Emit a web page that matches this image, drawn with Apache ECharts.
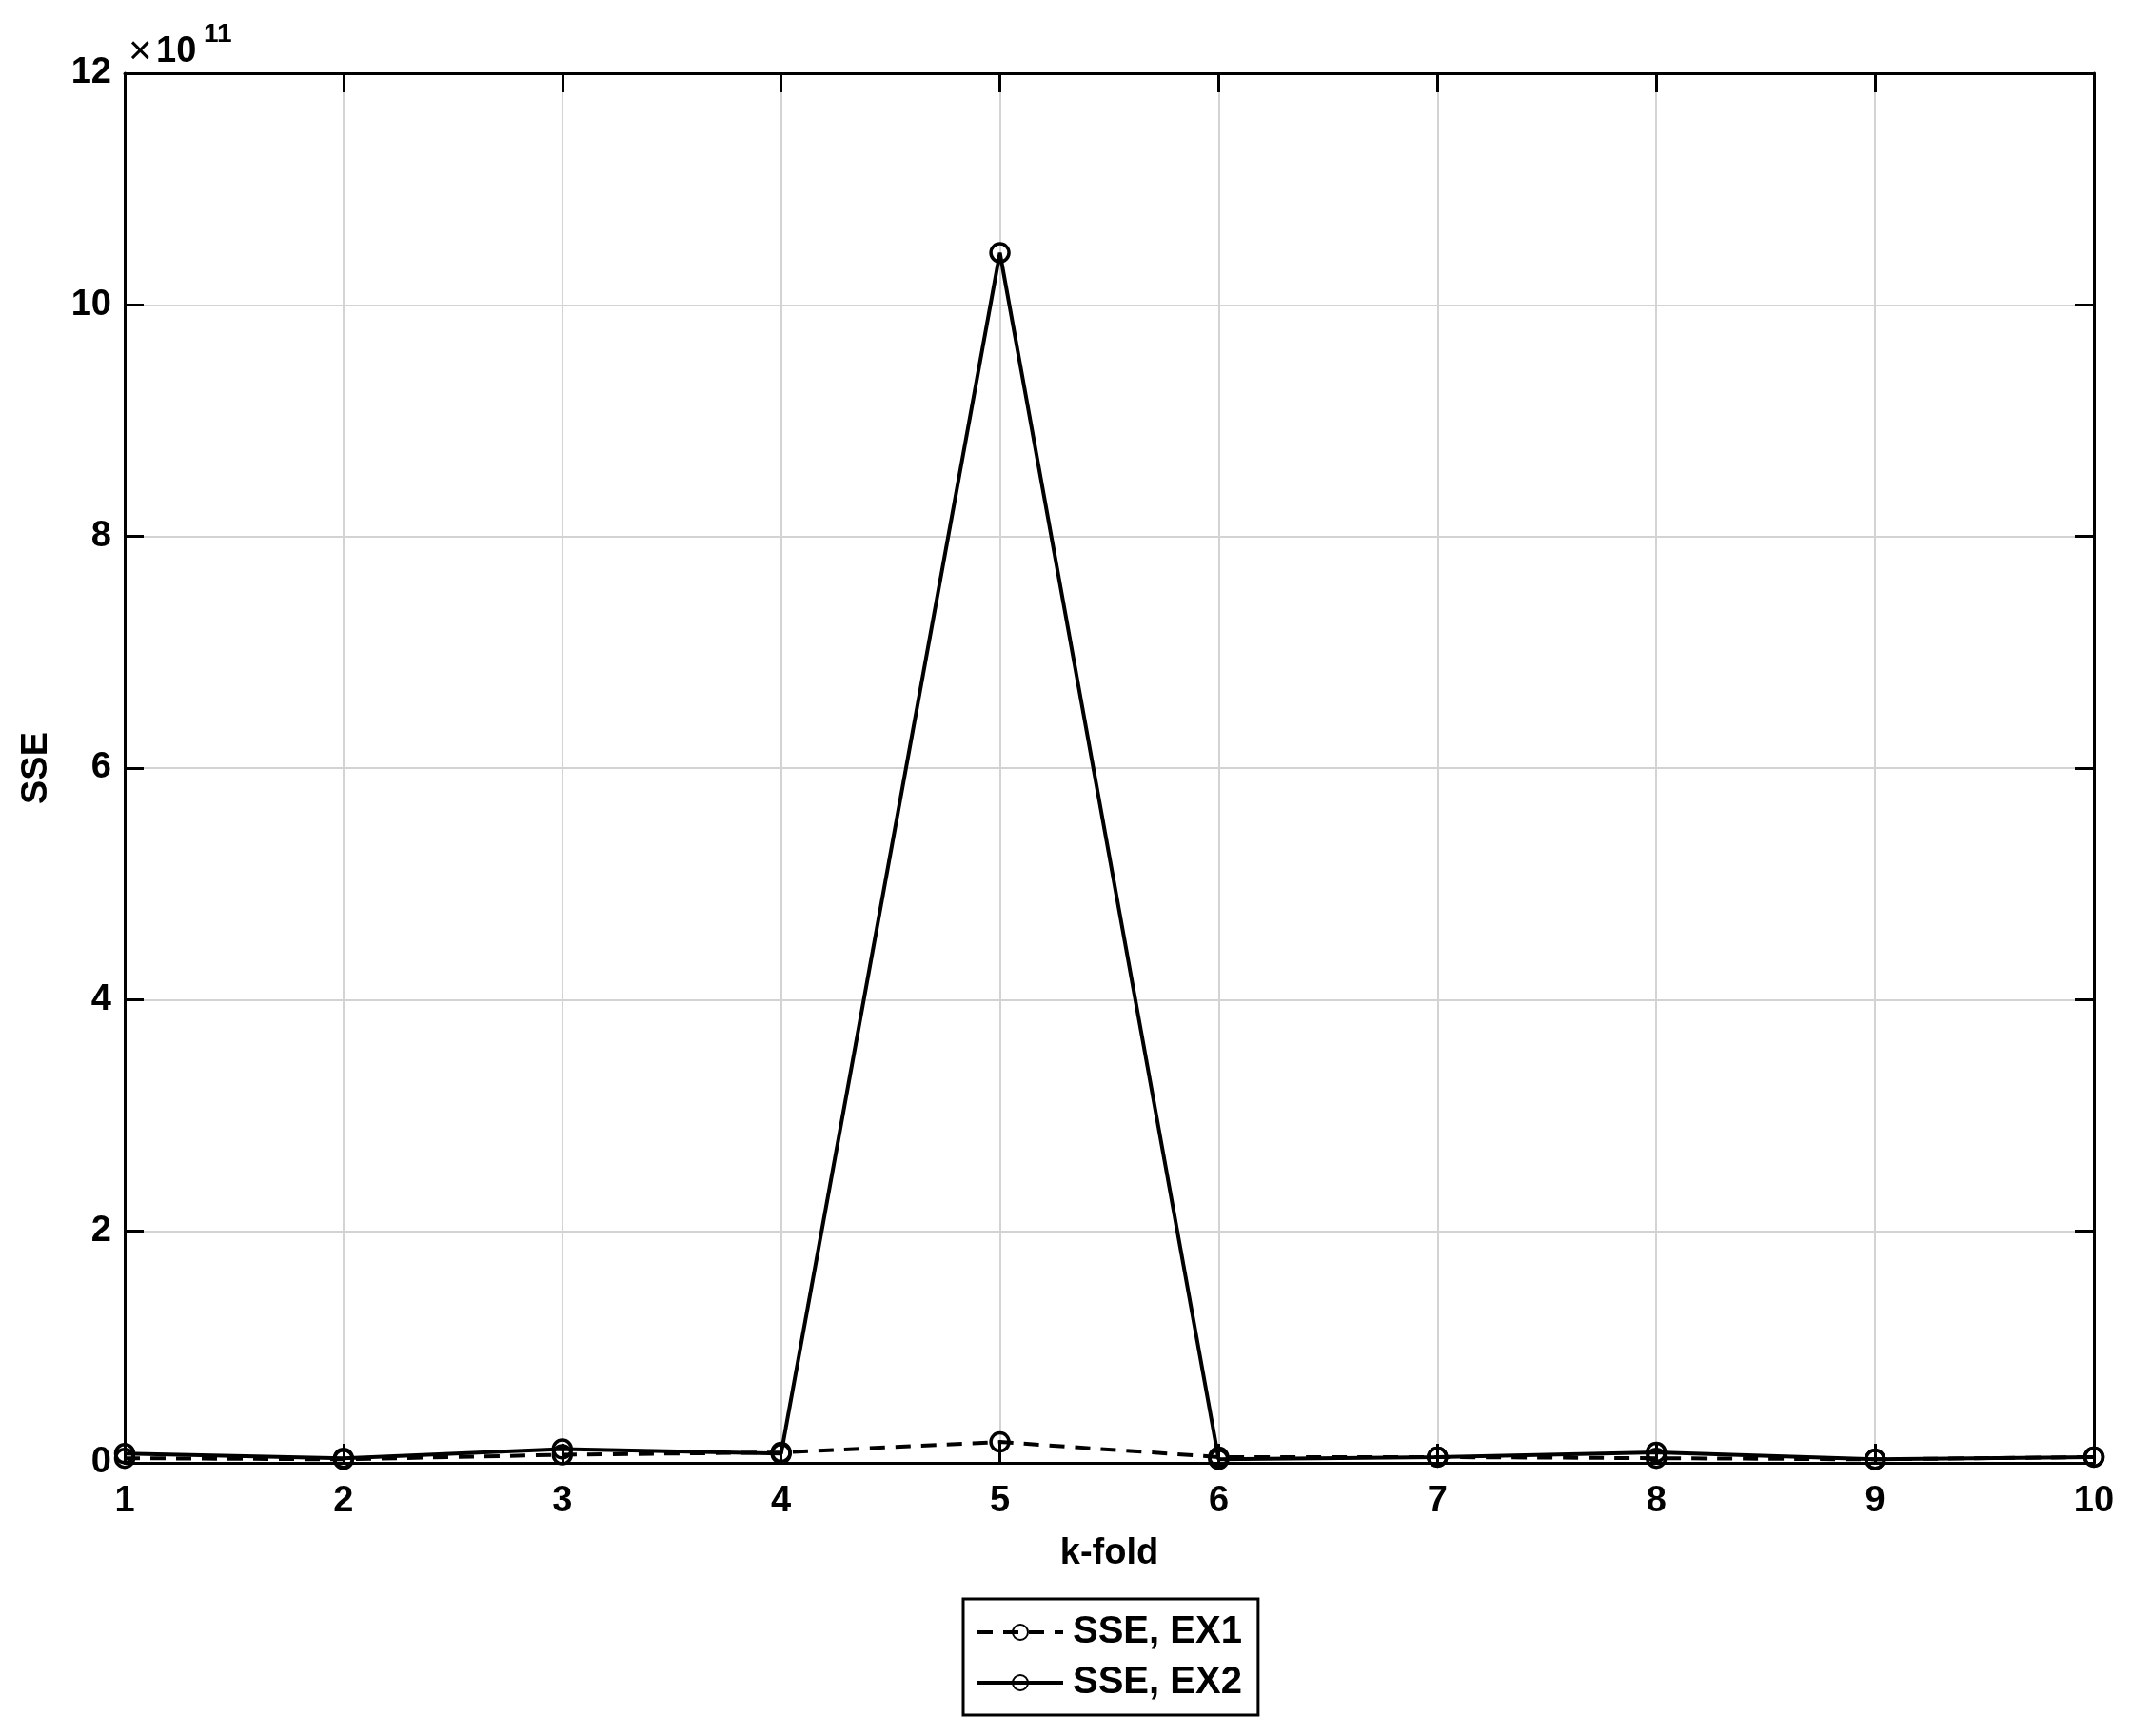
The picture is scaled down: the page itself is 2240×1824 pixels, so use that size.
<!DOCTYPE html>
<html>
<head>
<meta charset="utf-8">
<script src="https://cdn.jsdelivr.net/npm/echarts@6/dist/echarts.min.js"></script>
<style>
html, body { margin: 0; padding: 0; background: #fff; }
#chart { width: 2240px; height: 1824px; }
</style>
</head>
<body>
<div id="chart"></div>
<script>
// k-fold index
var folds = [1, 2, 3, 4, 5, 6, 7, 8, 9, 10];
// SSE values
var sseEx1 = [0.04e11, 0.03e11, 0.07e11, 0.09e11, 0.18e11, 0.05e11, 0.05e11, 0.04e11, 0.03e11, 0.05e11];
var sseEx2 = [0.08e11, 0.04e11, 0.12e11, 0.08e11, 10.45e11, 0.03e11, 0.05e11, 0.09e11, 0.03e11, 0.05e11];
var yTicksMax = 12e11;
var yStep = 2e11;

var FONT = 'Liberation Sans';
var DASH = [16, 11];

function pairs(xs, ys) {
	var out = [];
	for (var i = 0; i < xs.length; i++) out.push([xs[i], ys[i]]);
	return out;
}

var myChart = echarts.init(document.getElementById('chart'));

var tickStyle = { show: true, inside: true, length: 20, lineStyle: { color: '#000', width: 3 } };
var lineStyleAx = { show: true, onZero: false, lineStyle: { color: '#000', width: 3 } };

var option = {
	backgroundColor: '#fff',
	animation: false,
	grid: { left: 131, right: 40, top: 77, bottom: 287, outerBoundsMode: 'none' },
	xAxis: [{
		type: 'value', min: 1, max: 10, interval: 1, position: 'bottom',
		name: 'k-fold', nameLocation: 'middle', nameGap: 77,
		nameTextStyle: { fontFamily: FONT, fontWeight: 'bold', fontSize: 38, color: '#000' },
		axisLine: lineStyleAx, axisTick: tickStyle,
		axisLabel: { fontFamily: FONT, fontWeight: 'bold', fontSize: 38, color: '#000', margin: 22 },
		splitLine: { show: true, lineStyle: { color: '#d3d3d3', width: 2 } }
	}, {
		type: 'value', min: 1, max: 10, interval: 1, position: 'top',
		axisLine: lineStyleAx, axisTick: tickStyle,
		axisLabel: { show: false }, splitLine: { show: false }
	}],
	yAxis: [{
		type: 'value', min: 0, max: yTicksMax, interval: yStep, position: 'left',
		name: 'SSE', nameLocation: 'middle', nameGap: 73, nameRotate: 90,
		nameTextStyle: { fontFamily: FONT, fontWeight: 'bold', fontSize: 38, color: '#000' },
		axisLine: lineStyleAx, axisTick: tickStyle,
		axisLabel: { fontFamily: FONT, fontWeight: 'bold', fontSize: 38, color: '#000', margin: 14,
			formatter: function (v) { return String(Math.round(v / 1e11)); } },
		splitLine: { show: true, lineStyle: { color: '#d3d3d3', width: 2 } }
	}, {
		type: 'value', min: 0, max: yTicksMax, interval: yStep, position: 'right',
		axisLine: lineStyleAx, axisTick: tickStyle,
		axisLabel: { show: false }, splitLine: { show: false }
	}],
	legend: {
		orient: 'vertical', left: 1012, top: 1680,
		borderColor: '#000', borderWidth: 3, padding: [15, 17, 14, 13],
		itemWidth: 90, itemHeight: 20, itemGap: 13,
		textStyle: { fontFamily: FONT, fontWeight: 'bold', fontSize: 40, lineHeight: 40, color: '#000', padding: [0, 0, 0, 5] },
		data: [
			{ name: 'SSE, EX1', lineStyle: { width: 4, type: DASH } },
			{ name: 'SSE, EX2', lineStyle: { width: 4 } }
		]
	},
	graphic: [
		{ type: 'text', left: 135, top: 34, style: { text: '\u00d7', fontFamily: FONT, fontSize: 42, fill: '#000' } },
		{ type: 'text', left: 164, top: 36, style: { text: '10', fontFamily: FONT, fontWeight: 'bold', fontSize: 38, fill: '#000' } },
		{ type: 'text', left: 214, top: 22, style: { text: '11', fontFamily: FONT, fontWeight: 'bold', fontSize: 28, fill: '#000' } }
	],
	series: [{
		name: 'SSE, EX1', type: 'line', data: pairs(folds, sseEx1),
		symbol: 'circle', symbolSize: 19,
		itemStyle: { color: 'rgba(0,0,0,0)', borderColor: '#000', borderWidth: 3.5 },
		lineStyle: { color: '#000', width: 4, type: DASH },
		z: 3
	}, {
		name: 'SSE, EX2', type: 'line', data: pairs(folds, sseEx2),
		symbol: 'circle', symbolSize: 19,
		itemStyle: { color: 'rgba(0,0,0,0)', borderColor: '#000', borderWidth: 3.5 },
		lineStyle: { color: '#000', width: 4 },
		z: 4
	}]
};

myChart.setOption(option);
</script>
</body>
</html>
